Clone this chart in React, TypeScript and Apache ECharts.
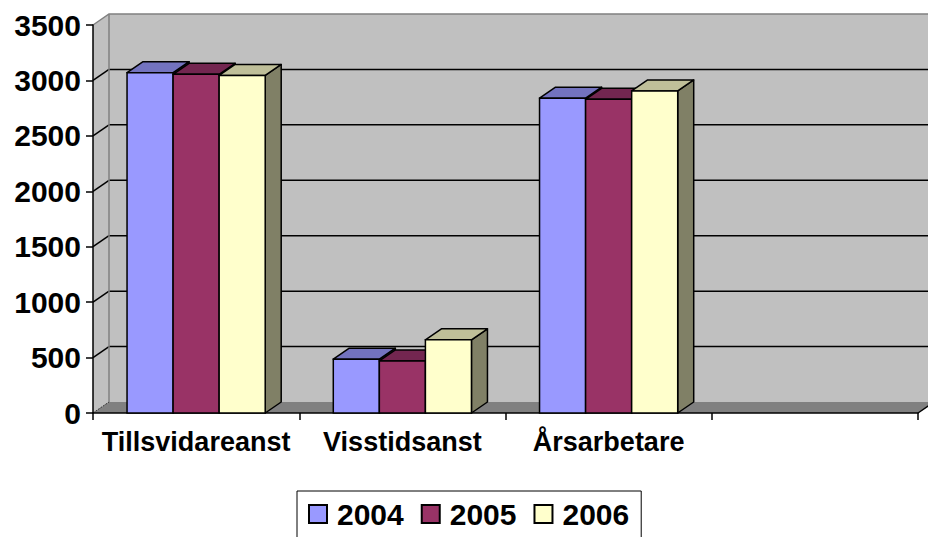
import React, { useEffect, useRef } from "react";
import * as echarts from "echarts";

const categories = ["Tillsvidareanst", "Visstidsanst", "Årsarbetare", ""];
const years = ["2004", "2005", "2006"];
const values2004 = [3070, 485, 2840];
const values2005 = [3055, 470, 2830];
const values2006 = [3045, 660, 2905];
const yTicks = [0, 500, 1000, 1500, 2000, 2500, 3000, 3500];

const seriesValues = [values2004, values2005, values2006];
const frontColors = ["#9999FF", "#993366", "#FFFFCC"];
const topColors = ["#7373BF", "#732650", "#BFBF99"];
const sideColors = ["#4D4D80", "#4D1A33", "#808066"];

const DX = 16;
const DY = -11;
const BAR_FRAC = 0.2233;
const FONT = "Arial, 'Liberation Sans', sans-serif";

export default function App() {
  const ref = useRef<HTMLDivElement>(null);
  useEffect(() => {
    if (!ref.current) return;
    const chart = echarts.init(ref.current, undefined, { renderer: "svg" });
    const yMax = yTicks[yTicks.length - 1];

    const wallSeries: any = {
      type: "custom",
      name: "walls",
      z: -1,
      silent: true,
      data: [[0, 0]],
      encode: { x: 0, y: 1 },
      renderItem: (params: any, api: any) => {
        const cs = params.coordSys;
        const xl = cs.x;
        const xr = cs.x + cs.width;
        const y0 = api.coord([0, 0])[1];
        const yt = api.coord([0, yMax])[1];
        const children: any[] = [];
        children.push({
          type: "rect",
          shape: { x: xl + DX, y: yt + DY, width: xr - xl, height: y0 - yt },
          style: { fill: "#C0C0C0" },
        });
        children.push({
          type: "polygon",
          shape: { points: [[xl, yt], [xl + DX, yt + DY], [xl + DX, y0 + DY], [xl, y0]] },
          style: { fill: "#C0C0C0" },
        });
        children.push({
          type: "polygon",
          shape: { points: [[xl, y0], [xr, y0], [xr + DX, y0 + DY], [xl + DX, y0 + DY]] },
          style: { fill: "#808080" },
        });
        yTicks.forEach((t) => {
          const y = api.coord([0, t])[1];
          if (t > 0 && t < yMax) {
            children.push({
              type: "line",
              shape: { x1: xl + DX, y1: y + DY, x2: xr + DX, y2: y + DY },
              style: { stroke: "#000", lineWidth: 1.5 },
            });
            children.push({
              type: "line",
              shape: { x1: xl, y1: y, x2: xl + DX, y2: y + DY },
              style: { stroke: "#000", lineWidth: 1.5 },
            });
          } else if (t === 0) {
            children.push({
              type: "line",
              shape: { x1: xl, y1: y, x2: xl + DX, y2: y + DY },
              style: { stroke: "#333", lineWidth: 1, lineDash: [2, 1] },
            });
          }
        });
        children.push({
          type: "polyline",
          shape: { points: [[xl, yt], [xl + DX, yt + DY], [xr + DX, yt + DY]] },
          style: { stroke: "#808080", lineWidth: 1.5, fill: "none" },
        });
        children.push({
          type: "line",
          shape: { x1: xl + DX, y1: yt + DY, x2: xl + DX, y2: y0 + DY },
          style: { stroke: "#808080", lineWidth: 1.5 },
        });
        children.push({
          type: "line",
          shape: { x1: xr, y1: y0, x2: xr + DX, y2: y0 + DY },
          style: { stroke: "#000", lineWidth: 1.5 },
        });
        return { type: "group", children };
      },
    };

    const barSeries = years.map((yr, si) => ({
      type: "custom",
      name: yr,
      itemStyle: { color: frontColors[si], borderColor: "#000", borderWidth: 1 },
      data: seriesValues[si].map((v, i) => [i, v]),
      encode: { x: 0, y: 1 },
      renderItem: (params: any, api: any) => {
        const ci = api.value(0);
        const v = api.value(1);
        const base = api.coord([ci, 0]);
        const top = api.coord([ci, v]);
        const band = api.size([1, 0])[0];
        const bw = band * BAR_FRAC;
        const x0 = base[0] + (si - 1) * bw - bw / 2;
        const x1 = x0 + bw;
        const ty = top[1];
        const by = base[1];
        const lw = 1.5;
        return {
          type: "group",
          children: [
            {
              type: "polygon",
              shape: { points: [[x1, ty], [x1, by], [x1 + DX, by + DY], [x1 + DX, ty + DY]] },
              style: { fill: sideColors[si], stroke: "#000", lineWidth: lw, lineJoin: "round" },
            },
            {
              type: "polygon",
              shape: { points: [[x0, ty], [x1, ty], [x1 + DX, ty + DY], [x0 + DX, ty + DY]] },
              style: { fill: topColors[si], stroke: "#000", lineWidth: lw, lineJoin: "round" },
            },
            {
              type: "rect",
              shape: { x: x0, y: ty, width: bw, height: by - ty },
              style: { fill: frontColors[si], stroke: "#000", lineWidth: lw },
            },
          ],
        };
      },
    }));

    chart.setOption({
      animation: false,
      backgroundColor: "#fff",
      grid: { left: 93, right: 10, top: 25, bottom: 124, containLabel: false },
      xAxis: {
        type: "category",
        data: categories,
        boundaryGap: true,
        axisLine: { show: true, lineStyle: { color: "#000", width: 1.5 } },
        axisTick: { show: true, length: 7, lineStyle: { color: "#000", width: 1.5 } },
        axisLabel: {
          color: "#000",
          fontFamily: FONT,
          fontWeight: "bold",
          fontSize: 27,
          margin: 15,
          interval: 0,
        },
        splitLine: { show: false },
      },
      yAxis: {
        type: "value",
        min: 0,
        max: yMax,
        interval: 500,
        axisLine: { show: true, lineStyle: { color: "#000", width: 1.5 } },
        axisTick: { show: true, length: 7, lineStyle: { color: "#000", width: 1.5 } },
        axisLabel: {
          color: "#000",
          fontFamily: FONT,
          fontWeight: "bold",
          fontSize: 30,
          margin: 12,
          formatter: (v: number) => String(v),
        },
        splitLine: { show: false },
      },
      legend: {
        data: years,
        left: 297,
        top: 491,
        orient: "horizontal",
        icon: "rect",
        itemWidth: 18,
        itemHeight: 18,
        itemGap: 17,
        padding: [8, 12, 12, 11],
        borderColor: "#000",
        borderWidth: 1,
        backgroundColor: "#fff",
        textStyle: {
          color: "#000",
          fontFamily: FONT,
          fontWeight: "bold",
          fontSize: 30,
          padding: [0, 0, 0, 5],
        },
      },
      series: [wallSeries, ...barSeries],
    });
    return () => chart.dispose();
  }, []);
  return (
    <div
      ref={ref}
      style={{ position: "fixed", left: 0, top: 0, width: 928, height: 537 }}
    />
  );
}
